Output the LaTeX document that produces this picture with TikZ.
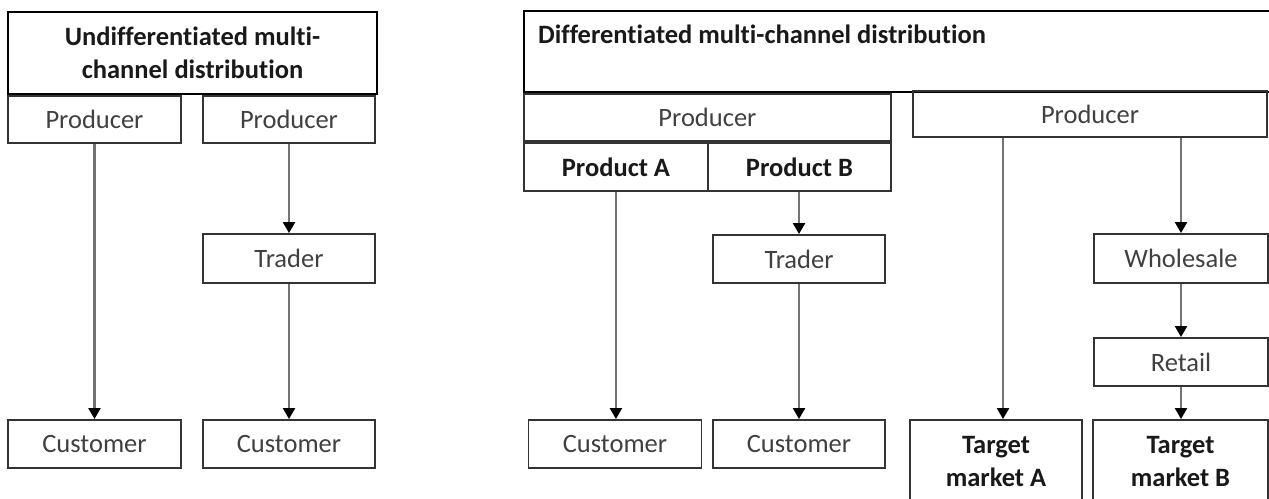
\documentclass[tikz,border=0pt]{standalone}
\usepackage{fontspec}
\setmainfont{Carlito}[Ligatures=NoCommon]
\usetikzlibrary{arrows.meta,positioning}

\begin{document}
\begin{tikzpicture}[x=1pt, y=-1pt,
    every node/.style = {font=\fontsize{26.5}{33}\selectfont},
    box/.style  = {draw=black!80, line width=1.9pt, text=black!75,
      inner sep=0pt, align=center},
    key/.style  = {box, text=black!90, font=\fontsize{26.5}{33}\selectfont\bfseries},
    head/.style = {key, draw=black, line width=2pt},
    flow/.style = {draw=black!55, line width=2.3pt,
      -{Triangle[black, length=11pt, width=12pt]}},
  ]
  \useasboundingbox (0,0) rectangle (1269,498);
  \clip (0,0) rectangle (1269,498);

  % undifferentiated
  \node[head, minimum width=369, minimum height=82] (uhead) at (192.5,53)
    {Undifferentiated multi-\\channel distribution};
  \node[box, minimum width=173, minimum height=47] (prodL1) at (94.5,119.5) {Producer};
  \node[box, minimum width=172, minimum height=47] (prodL2) at (289,119.5) {Producer};
  \node[box, minimum width=172, minimum height=49] (tradL) at (289,258.5) {Trader};
  \node[box, minimum width=173, minimum height=48] (custL1) at (94.5,444) {Customer};
  \node[box, minimum width=172, minimum height=48] (custL2) at (289,444) {Customer};

  \draw[flow] (prodL1) -- (custL1);
  \draw[flow] (prodL2) -- (tradL);
  \draw[flow] (tradL) -- (custL2);

  % differentiated
  \node[head, minimum width=760, minimum height=81, anchor=north west] (dhead) at (523,10) {};
  \node[text=black!90, font=\fontsize{26.5}{33}\selectfont\bfseries, anchor=west, inner sep=0pt]
    (dtitle) at ([xshift=15, yshift=-24]dhead.north west) {Differentiated multi-channel distribution};

  \node[box, minimum width=367, minimum height=47, anchor=north west] (prodR1) at (dhead.south west) {Producer};
  \node[key, minimum width=184, minimum height=48, anchor=north west] (prodA) at (prodR1.south west) {Product A};
  \node[key, minimum width=183, minimum height=48, anchor=north east] (prodB) at (prodR1.south east) {Product B};
  \node[box, minimum width=172, minimum height=48] (tradR) at (799,259) {Trader};
  \node[box, minimum width=173, minimum height=48] (custR1) at (615,444) {Customer};
  \node[box, minimum width=172, minimum height=48] (custR2) at (799,444) {Customer};

  \node[box, minimum width=354, minimum height=46] (prodR2) at (1090,114) {Producer};
  \node[box, minimum width=174, minimum height=49] (whole) at (1181,258.5) {Wholesale};
  \node[box, minimum width=174, minimum height=48] (retail) at (1181,362) {Retail};
  \node[key, minimum width=172, minimum height=83] (targA) at (996,461.5) {Target\\market A};
  \node[key, minimum width=175, minimum height=83] (targB) at (1180.5,461.5) {Target\\market B};

  \draw[flow] (prodA) -- (prodA |- custR1.north);
  \draw[flow] (prodB.south -| tradR) -- (tradR);
  \draw[flow] (tradR) -- (custR2);
  \draw[flow] ([xshift=7]targA.north |- prodR2.south) -- ([xshift=7]targA.north);
  \draw[flow] (whole |- prodR2.south) -- (whole);
  \draw[flow] (whole) -- (retail);
  \draw[flow] (retail) -- (retail |- targB.north);
\end{tikzpicture}
\end{document}
